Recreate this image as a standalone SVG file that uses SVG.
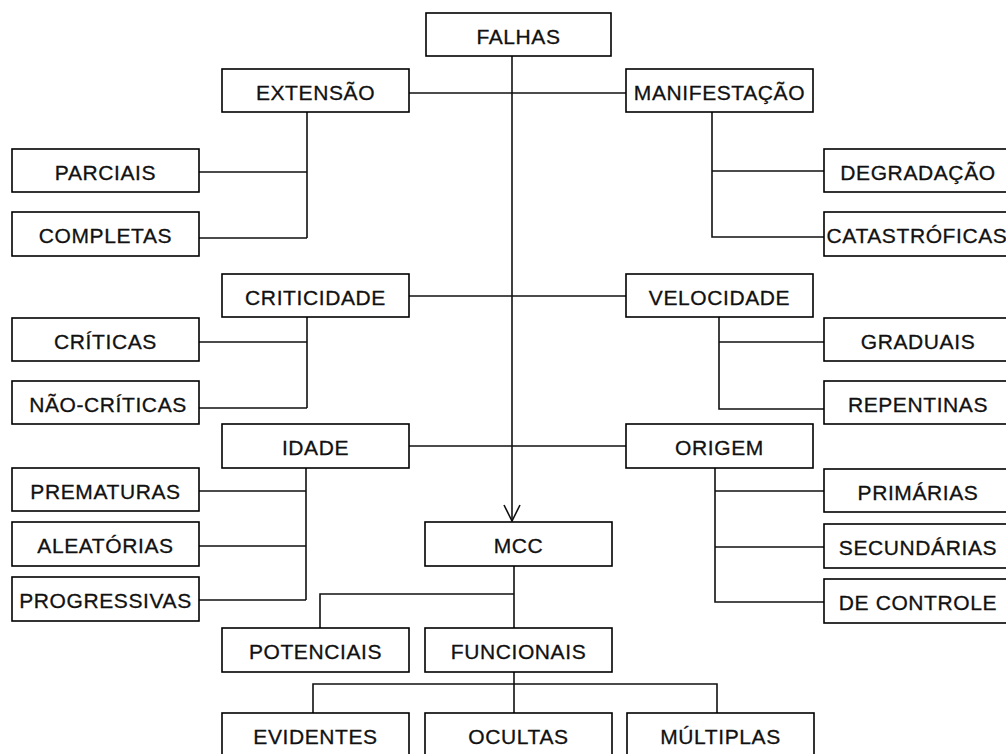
<svg xmlns="http://www.w3.org/2000/svg" width="1006" height="754" viewBox="0 0 1006 754">
<defs>
<style>
.box rect{fill:#fff;stroke:#000;stroke-width:1.6}
.box text{font-family:"Liberation Sans",Arial,sans-serif;font-size:21px;letter-spacing:0.6px;fill:#111;stroke:#111;stroke-width:0.3;text-anchor:middle}
#connectors path{fill:none;stroke:#111;stroke-width:1.6}
</style>
<marker id="arrow" viewBox="0 0 20 20" refX="18" refY="10" markerWidth="20" markerHeight="20" markerUnits="userSpaceOnUse" orient="auto">
<path d="M2,2 L18,10 L2,18" fill="none" stroke="#111" stroke-width="1.6"/>
</marker>
</defs>
<rect width="1006" height="754" fill="#fff"/>
<g id="connectors">
<path d="M512,56 V521" marker-end="url(#arrow)"/>
<path d="M409,93 H626"/>
<path d="M307,112 V238 M199,172 H307 M199,238 H307"/>
<path d="M712,112 V237 H824 M712,171 H824"/>
<path d="M409,296 H626"/>
<path d="M307,317 V408 M199,342 H307 M199,408 H307"/>
<path d="M719,317 V409 H824 M719,342 H824"/>
<path d="M409,446 H626"/>
<path d="M306,468 V600 M199,491 H306 M199,546 H306 M199,600 H306"/>
<path d="M715,468 V602 H824 M715,491 H824 M715,547 H824"/>
<path d="M514,566 V628 M514,594 H320 V628"/>
<path d="M514,672 V713 M313,713 V684 H717 V713"/>
</g>
<g id="falhas" class="box"><rect x="426" y="13" width="185" height="43"/><text x="518.5" y="44">FALHAS</text></g>
<g id="extensao" class="box"><rect x="222" y="69" width="187" height="43"/><text x="315.5" y="100">EXTENSÃO</text></g>
<g id="manifestacao" class="box"><rect x="626" y="69" width="187" height="43"/><text x="719.5" y="100">MANIFESTAÇÃO</text></g>
<g id="parciais" class="box"><rect x="12" y="149" width="187" height="43"/><text x="105.5" y="180">PARCIAIS</text></g>
<g id="completas" class="box"><rect x="12" y="212" width="187" height="44"/><text x="105.5" y="243">COMPLETAS</text></g>
<g id="degradacao" class="box"><rect x="824" y="149" width="190" height="43"/><text x="918" y="180">DEGRADAÇÃO</text></g>
<g id="catastroficas" class="box"><rect x="824" y="212" width="190" height="44"/><text x="917" y="243">CATASTRÓFICAS</text></g>
<g id="criticidade" class="box"><rect x="222" y="274" width="187" height="43"/><text x="315.5" y="305">CRITICIDADE</text></g>
<g id="velocidade" class="box"><rect x="626" y="274" width="187" height="43"/><text x="719.5" y="305">VELOCIDADE</text></g>
<g id="criticas" class="box"><rect x="12" y="318" width="187" height="43"/><text x="105.5" y="349">CRÍTICAS</text></g>
<g id="nao-criticas" class="box"><rect x="12" y="381" width="187" height="43"/><text x="108" y="412">NÃO-CRÍTICAS</text></g>
<g id="graduais" class="box"><rect x="824" y="318" width="190" height="43"/><text x="918" y="349">GRADUAIS</text></g>
<g id="repentinas" class="box"><rect x="824" y="381" width="190" height="43"/><text x="918" y="412">REPENTINAS</text></g>
<g id="idade" class="box"><rect x="222" y="424" width="187" height="44"/><text x="315.5" y="455">IDADE</text></g>
<g id="origem" class="box"><rect x="626" y="424" width="187" height="44"/><text x="719.5" y="455">ORIGEM</text></g>
<g id="prematuras" class="box"><rect x="12" y="468" width="187" height="43"/><text x="105.5" y="499">PREMATURAS</text></g>
<g id="aleatorias" class="box"><rect x="12" y="522" width="187" height="44"/><text x="105.5" y="553">ALEATÓRIAS</text></g>
<g id="progressivas" class="box"><rect x="12" y="577" width="187" height="44"/><text x="105.5" y="608">PROGRESSIVAS</text></g>
<g id="primarias" class="box"><rect x="824" y="469" width="190" height="43"/><text x="918" y="500">PRIMÁRIAS</text></g>
<g id="secundarias" class="box"><rect x="824" y="524" width="190" height="44"/><text x="918" y="555">SECUNDÁRIAS</text></g>
<g id="de-controle" class="box"><rect x="824" y="579" width="190" height="44"/><text x="918" y="610">DE CONTROLE</text></g>
<g id="mcc" class="box"><rect x="425" y="522" width="187" height="44"/><text x="518.5" y="553">MCC</text></g>
<g id="potenciais" class="box"><rect x="222" y="628" width="187" height="44"/><text x="315.5" y="659">POTENCIAIS</text></g>
<g id="funcionais" class="box"><rect x="425" y="628" width="187" height="44"/><text x="518.5" y="659">FUNCIONAIS</text></g>
<g id="evidentes" class="box"><rect x="222" y="713" width="187" height="46"/><text x="315.5" y="744">EVIDENTES</text></g>
<g id="ocultas" class="box"><rect x="425" y="713" width="187" height="46"/><text x="518.5" y="744">OCULTAS</text></g>
<g id="multiplas" class="box"><rect x="627" y="713" width="187" height="46"/><text x="720.5" y="744">MÚLTIPLAS</text></g>
</svg>
